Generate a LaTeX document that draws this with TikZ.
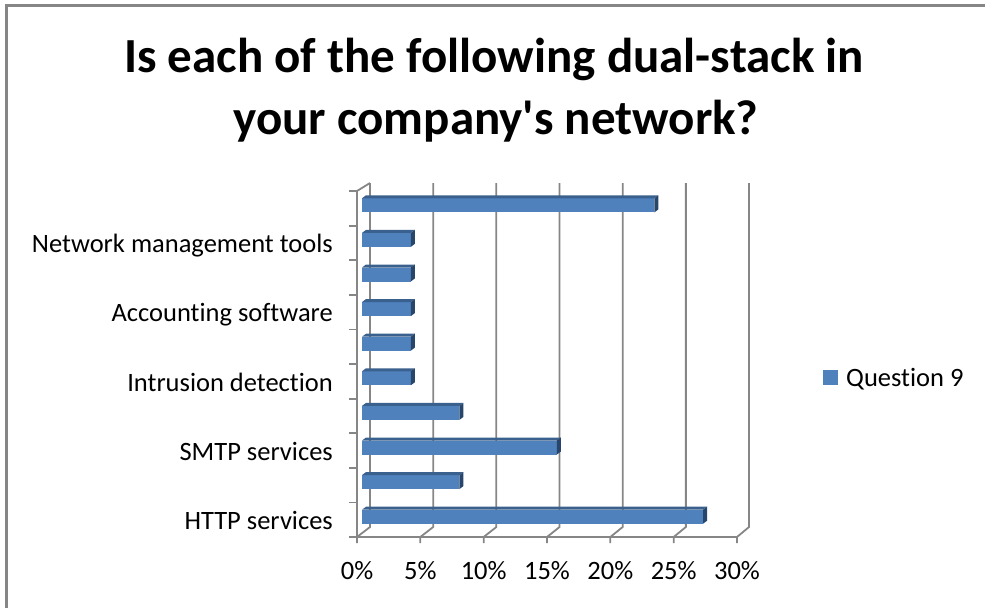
\documentclass[tikz,border=0pt]{standalone}
\usepackage{fontspec}
\newfontfamily\chartfont{Carlito}[Ligatures=NoCommon]
\definecolor{gridgray}{RGB}{134,134,134}
\definecolor{framegray}{RGB}{134,134,134}
\definecolor{barfront}{RGB}{79,129,189}
\definecolor{bartop}{RGB}{58,96,142}
\definecolor{barside}{RGB}{40,70,108}
\begin{document}
\begin{tikzpicture}[x=1pt,y=-1pt,
    grid/.style={draw=gridgray,line width=1.8pt},
    lbl/.style={font=\chartfont\fontsize{26.5}{30}\selectfont,inner sep=0pt},
    ttl/.style={font=\chartfont\fontsize{49}{60}\selectfont\bfseries,inner sep=0pt,anchor=base}]
\useasboundingbox (0,0) rectangle (985,608);
% chart frame (top and left edges inside the page)
\draw[framegray,line width=2.5pt] (6.5,608) -- (6.5,5.5) -- (985,5.5);
% title
\node[ttl] (title1) at (494,72) {Is each of the following dual-stack in};
\node[ttl] (title2) at (496,134) {your company's network?};
% floor diagonals and back wall gridlines
\foreach \k in {0,...,6} {
  \draw[grid] (357+63.33*\k,543) -- (357+63.33*\k,537) -- (370+63.17*\k,527) -- (370+63.17*\k,183);
}
\draw[grid] (357,537) -- (737,537);
% left axis with category ticks
\draw[grid] (357,537) -- (357,191) -- (370,183);
\foreach \j in {0,...,10} {
  \draw[grid] (349,191+34.6*\j) -- (357,191+34.6*\j);
}
% bars
\foreach \v [count=\i] in {23.08,3.85,3.85,3.85,3.85,3.85,7.69,15.38,7.69,26.92} {
  \pgfmathsetmacro\c{191+34.6*(\i-0.5)-3}
  \pgfmathsetmacro\e{362+12.67*\v}
  \fill[barfront] (362,\c-7) rectangle (\e,\c+7);
  \fill[bartop] (362,\c-7) -- (\e,\c-7) -- (\e+4,\c-10) -- (366,\c-10) -- cycle;
  \fill[barside] (\e,\c-7) -- (\e+4,\c-10) -- (\e+4,\c+4) -- (\e,\c+7) -- cycle;
}
% category labels
\node[lbl,anchor=base east] (catB) at (333,252.7) {Network management tools};
\node[lbl,anchor=base east] (catD) at (333,321.9) {Accounting software};
\node[lbl,anchor=base east] (catF) at (333,391.1) {Intrusion detection};
\node[lbl,anchor=base east] (catH) at (333,460.3) {SMTP services};
\node[lbl,anchor=base east] (catJ) at (333,529.5) {HTTP services};
% value axis labels
\foreach \p [count=\k from 0] in {0,5,...,30} {
  \node[lbl,anchor=base] (pct\p) at (357+63.33*\k,579) {\p\%};
}
% legend
\node[fill=barfront,minimum size=15pt,inner sep=0pt] (key) at (830.5,377.5) {};
\node[lbl,anchor=base west] (keytext) at (846,386) {Question 9};
\end{tikzpicture}
\end{document}
